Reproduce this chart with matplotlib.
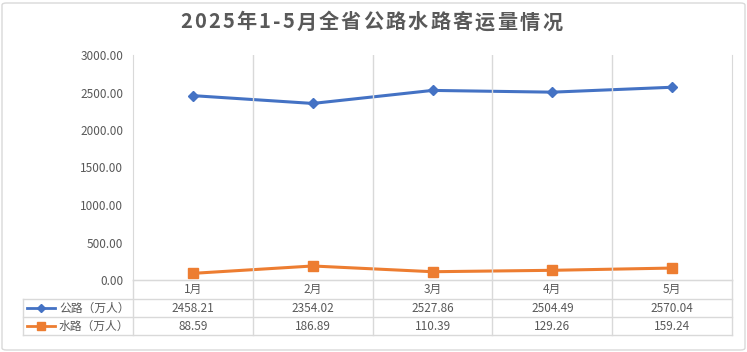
import matplotlib
matplotlib.use("Agg")
import matplotlib.pyplot as plt
from matplotlib.patches import FancyBboxPatch
from matplotlib.lines import Line2D

plt.rcParams['font.family'] = ['Noto Sans CJK SC', 'DejaVu Sans']

months = ['1月', '2月', '3月', '4月', '5月']
road = [2458.21, 2354.02, 2527.86, 2504.49, 2570.04]
water = [88.59, 186.89, 110.39, 129.26, 159.24]
series_names = ['公路（万人）', '水路（万人）']
title = '2025年1-5月全省公路水路客运量情况'

W, H = 747, 352
BLUE = '#4472C4'
ORANGE = '#ED7D31'
GRID = '#D9D9D9'
TXT = '#595959'

fig = plt.figure(figsize=(W / 100, H / 100), dpi=100)

# outer chart border
fig.patches.append(FancyBboxPatch((2 / W, 2 / H), 743 / W, 347 / H,
                                  boxstyle='round,pad=0,rounding_size=0.006',
                                  transform=fig.transFigure, fill=False,
                                  edgecolor=GRID, linewidth=1))

# title with a bit of letter spacing
renderer = fig.canvas.get_renderer()
spacing = 2.2
pieces = []
total = 0
for ch in title:
    t = fig.text(0, 0, ch, fontsize=14.5, fontweight='bold', color=TXT, va='center', ha='left')
    w = t.get_window_extent(renderer).width
    pieces.append((t, w))
    total += w + spacing
total -= spacing
xcur = 371 - total / 2
for t, w in pieces:
    t.set_position((xcur / W, 1 - 22 / H))
    xcur += w + spacing

# plot area
px0, px1, py_top, py_bot = 133, 732, 55, 280
ax = fig.add_axes([px0 / W, 1 - py_bot / H, (px1 - px0) / W, (py_bot - py_top) / H])
x = list(range(len(months)))
ax.plot(x, road, color=BLUE, lw=2.2, marker='D', ms=5, label=series_names[0])
ax.plot(x, water, color=ORANGE, lw=2.2, marker='s', ms=7, label=series_names[1])
ax.set_xlim(-0.5, len(months) - 0.5)
ax.set_ylim(0, 3000)
ax.set_yticks(range(0, 3001, 500))
ax.set_yticklabels([f'{v:.2f}' for v in range(0, 3001, 500)], fontsize=8.5, color=TXT)
ax.tick_params(axis='y', length=0, pad=7)
ax.set_xticks([])
for b in [i + 0.5 for i in range(len(months) - 1)]:
    ax.axvline(b, color=GRID, lw=1)
ax.spines['top'].set_visible(False)
for s in ['left', 'right', 'bottom']:
    ax.spines[s].set_color(GRID)

# data table
tx0 = 23
row_y = [280, 299, 317, 335]
tab = fig.add_axes([0, 0, 1, 1], facecolor='none')
tab.set_xlim(0, W)
tab.set_ylim(H, 0)
tab.axis('off')
cw = (px1 - px0) / len(months)
tab.add_line(Line2D([px0, px1], [row_y[0], row_y[0]], color=GRID, lw=1))
for yy in row_y[1:]:
    tab.add_line(Line2D([tx0, px1], [yy, yy], color=GRID, lw=1))
tab.add_line(Line2D([tx0, tx0], [row_y[1], row_y[3]], color=GRID, lw=1))
for i in range(len(months) + 1):
    xx = px0 + i * cw
    tab.add_line(Line2D([xx, xx], [row_y[0], row_y[3]], color=GRID, lw=1))

for i, m in enumerate(months):
    cx = px0 + (i + 0.5) * cw
    tab.text(cx, (row_y[0] + row_y[1]) / 2, m, ha='center', va='center', fontsize=8.5, color=TXT)
    tab.text(cx, (row_y[1] + row_y[2]) / 2, f'{road[i]:.2f}', ha='center', va='center',
             fontsize=8.5, color=TXT)
    tab.text(cx, (row_y[2] + row_y[3]) / 2, f'{water[i]:.2f}', ha='center', va='center',
             fontsize=8.5, color=TXT)

# legend keys in table
for r, (name, col, mk, ms) in enumerate([(series_names[0], BLUE, 'D', 4),
                                         (series_names[1], ORANGE, 's', 6)]):
    yy = (row_y[r + 1] + row_y[r + 2]) / 2
    tab.add_line(Line2D([27, 55], [yy, yy], color=col, lw=2))
    tab.add_line(Line2D([41], [yy], color=col, marker=mk, ms=ms))
    tab.text(59, yy, name, ha='left', va='center', fontsize=8.5, color=TXT)

fig.savefig('out.png', dpi=100)
